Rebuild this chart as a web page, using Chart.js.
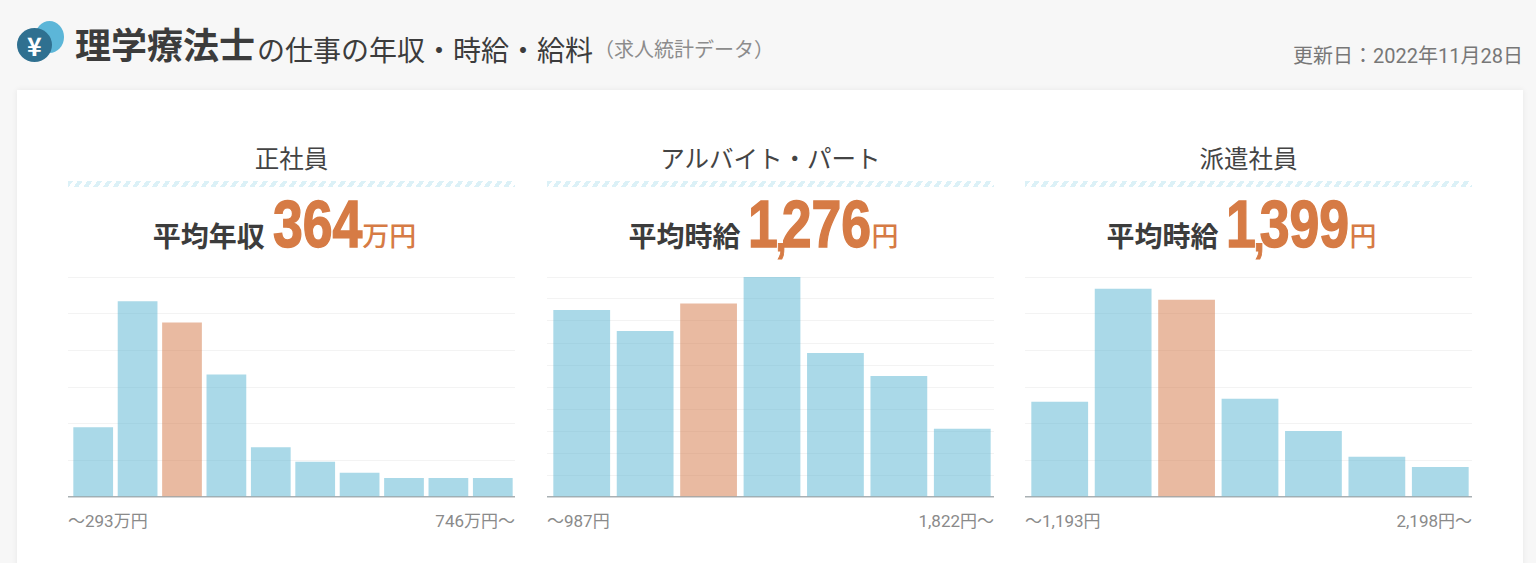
<!DOCTYPE html>
<html lang="ja">
<head>
  <meta charset="UTF-8">
  <title>理学療法士の仕事の年収・時給・給料</title>
  <style>
    html, body { margin: 0; height: 563px; overflow: hidden; background: #f7f7f7; }
    body { position: relative; width: 1536px; font-family: "Noto Sans CJK JP", sans-serif; color: #3c3c3c; }
    .abs { position: absolute; white-space: nowrap; line-height: 1; }

    .coin1 { left: 35px; top: 21px; width: 29px; height: 32px; border-radius: 50%; background: #5cb6d8; }
    .coin2 { left: 17px; top: 28px; width: 35px; height: 34px; border-radius: 50%; background: #2f7090; color: #fff; font: 700 25px/34px "Noto Sans CJK JP"; text-align: center; }
    .title { left: 75px; top: 25px; font-size: 36px; font-weight: 700; }
    .title2 { left: 257px; top: 35px; font-size: 28px; }
    .title3 { left: 594px; top: 39px; font-size: 20px; color: #8c8c8c; }
    .update { right: 13px; top: 40px; font: 20px Roboto, "Noto Sans CJK JP"; color: #777; }

    .card { position: absolute; left: 17px; top: 90px; width: 1506px; height: 480px; background: #fff; box-shadow: 0 0 6px rgba(0,0,0,.07); }

    .panel { position: absolute; top: 0; width: 447px; height: 563px; }
    .name { left: 0; width: 100%; top: 146px; text-align: center; font-size: 24.5px; color: #444; }
    .stripe { position: absolute; left: 0; width: 100%; top: 181px; height: 6px; filter: blur(.5px);
      background: repeating-linear-gradient(125deg, #dcf1f7 0 4px, #fff 4px 8px); }
    .avg { left: -7px; width: 100%; top: 189px; height: 70px; text-align: center; }
    .avg span { display: inline-block; vertical-align: baseline; }
    .avg .lbl { font-size: 28px; font-weight: 700; margin-right: 8px; line-height: 70px; }
    .avg .num { font: 700 67px/70px "Liberation Sans"; color: #d67b45; -webkit-text-stroke: 1.5px #d67b45; transform: scaleX(.8); transform-origin: 0 50%; }
    .avg .comma { margin: 0 -6px 0 -3px; font-size: 50px; line-height: 50px; position: relative; top: 4px; -webkit-text-stroke: 1px #d67b45; }
    .avg .unit { font-size: 27px; font-weight: 500; color: #d67b45; position: relative; top: -1px; }
    .chart { position: absolute; left: 0; top: 270px; width: 447px; height: 234px; }
    .lo, .hi { top: 507px; font: 17px Roboto, "Noto Sans CJK JP"; color: #8a8a8a; }
    .lo { left: 0; } .hi { right: 0; }
  </style>
</head>
<body>
  <div class="abs coin1"></div>
  <div class="abs coin2">¥</div>
  <div class="abs title">理学療法士</div>
  <div class="abs title2">の仕事の年収・時給・給料</div>
  <div class="abs title3">（求人統計データ）</div>
  <div class="abs update">更新日：2022年11月28日</div>
  <div class="card"></div>
  <div id="panels"></div>

  <script src="https://cdnjs.cloudflare.com/ajax/libs/Chart.js/4.4.1/chart.umd.min.js"></script>
  <script>
    // 各パネルのデータ（割合 %）
    const panelNames = ["正社員", "アルバイト・パート", "派遣社員"];
    const avgLabels = ["平均年収", "平均時給", "平均時給"];
    const avgValues = ["364", "1,276", "1,399"];
    const avgUnits = ["万円", "円", "円"];
    const lowLabels = ["〜293万円", "〜987円", "〜1,193円"];
    const highLabels = ["746万円〜", "1,822円〜", "2,198円〜"];

    const seiValues = [9.5, 26.7, 23.8, 16.7, 6.8, 4.8, 3.3, 2.6, 2.6, 2.6];
    const baitoValues = [17.0, 15.1, 17.6, 20.0, 13.1, 11.0, 6.2];
    const hakenValues = [13.0, 28.4, 26.9, 13.4, 9.0, 5.5, 4.1];
    const seriesValues = [seiValues, baitoValues, hakenValues];

    const axisMax = [30, 20, 30];
    const axisStep = [5, 2, 5];
    const highlightIndex = 2;

    const panelLeft = [68, 547, 1025];

    const blue = "rgba(86,180,210,.5)";
    const orange = "rgba(212,118,68,.5)";

    const panels = document.getElementById("panels");

    // y=0 の線だけ濃くする
    function gridColor(ctx) {
      return ctx.tick && ctx.tick.value === 0 ? "#a9b0b3" : "#f3f3f3";
    }

    seriesValues.forEach(function (values, i) {
      const p = document.createElement("div");
      p.className = "panel";
      p.style.left = panelLeft[i] + "px";
      p.innerHTML =
        '<div class="stripe"></div>' +
        '<div class="abs name">' + panelNames[i] + '</div>' +
        '<div class="abs avg"><span class="lbl">' + avgLabels[i] + '</span><span class="num">' + avgValues[i].replace(",", '<span class="comma">,</span>') + '</span><span class="unit">' + avgUnits[i] + '</span></div>' +
        '<div class="chart"><canvas id="chart' + i + '"></canvas></div>' +
        '<div class="abs lo">' + lowLabels[i] + '</div>' +
        '<div class="abs hi">' + highLabels[i] + '</div>';
      panels.appendChild(p);

      // scaleX で縮めた分の幅を詰める
      const num = p.querySelector(".num");
      num.style.marginRight = (-0.2 * num.offsetWidth) + "px";

      new Chart(document.getElementById("chart" + i), {
        type: "bar",
        data: {
          labels: values.map(function (v, k) { return String(k + 1); }),
          datasets: [{
            data: values,
            backgroundColor: values.map(function (v, k) { return k === highlightIndex ? orange : blue; }),
            barPercentage: 0.895,
            categoryPercentage: 1
          }]
        },
        options: {
          responsive: true,
          maintainAspectRatio: false,
          animation: false,
          layout: { padding: { top: 7, bottom: 7 } },
          plugins: { legend: { display: false }, tooltip: { enabled: false } },
          scales: {
            x: {
              grid: { display: false, drawTicks: false },
              ticks: { display: false },
              border: { display: false }
            },
            y: {
              min: 0,
              max: axisMax[i],
              ticks: { display: false, stepSize: axisStep[i] },
              grid: {
                color: gridColor,
                tickColor: gridColor,
                tickLength: 3,
                lineWidth: function (ctx) { return ctx.tick && ctx.tick.value === 0 ? 1.5 : 1; }
              },
              border: { display: false }
            }
          }
        }
      });
    });
  </script>
</body>
</html>
